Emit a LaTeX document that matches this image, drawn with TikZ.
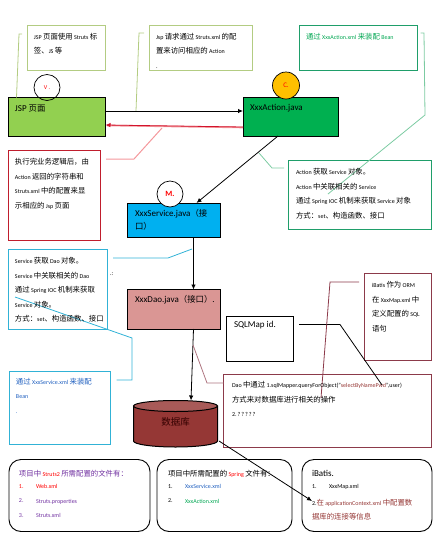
\documentclass[tikz,border=0pt]{standalone}
\usepackage{fontspec}
\setmainfont{Carlito}
\newfontfamily\cjk{Noto Sans CJK SC}
\usetikzlibrary{arrows.meta,shapes.geometric}
\newcommand{\Z}[1]{{\cjk\fontsize{7.4}{14.5}\selectfont #1}}
\newcommand{\ZB}[1]{{\cjk\fontsize{8.4}{12}\selectfont #1}}
\definecolor{cOlive}{HTML}{B3CC82}
\definecolor{cGreen}{HTML}{1F9E6A}
\definecolor{cGreenL}{HTML}{7CCBA2}
\definecolor{cCyan}{HTML}{31B2D6}
\definecolor{cDark}{HTML}{8C3A4A}
\definecolor{cPink}{HTML}{F4979B}
\definecolor{cPurple}{HTML}{7030A0}
\definecolor{cBlue}{HTML}{1F5FBF}
\definecolor{cTeal}{HTML}{00A651}
\definecolor{cRust}{HTML}{953735}
\definecolor{cRed}{HTML}{D2142D}
\definecolor{cRedBox}{HTML}{C01E2D}
\definecolor{fJsp}{HTML}{92D050}
\definecolor{fAct}{HTML}{00B050}
\definecolor{fSvc}{HTML}{00B0F0}
\definecolor{fDao}{HTML}{DA9694}
\definecolor{fOrange}{HTML}{FFC000}
\definecolor{fDbTop}{HTML}{A85A58}
\tikzset{
 boxst/.style={draw,anchor=north west,inner sep=0pt,outer sep=0pt,line width=.9pt},
 mainbox/.style={boxst,draw=black,line width=1pt},
 roundbox/.style={boxst,draw=black,rounded corners=12pt},
 txt/.style={anchor=north west,inner sep=0pt,outer sep=0pt,align=left,font=\fontsize{6}{14.5}\selectfont},
 big/.style={anchor=north west,inner sep=0pt,outer sep=0pt,align=left,font=\fontsize{9}{12}\selectfont},
 circ/.style={circle,draw=black,line width=.7pt,inner sep=0pt,minimum size=26pt},
 conn/.style={line width=.8pt},
 arr/.style={line width=.8pt,-{Latex[length=5pt,width=4.5pt]}},
}
\begin{document}
\begin{tikzpicture}[x=1pt,y=-1pt]
\useasboundingbox (0,0) rectangle (437,547);
% boxes
\node[boxst,draw=cOlive,minimum width=78pt,minimum height=45pt] (n1) at (27,25) {};
\node[boxst,draw=cOlive,minimum width=103pt,minimum height=45pt] (n2) at (149,25) {};
\node[boxst,draw=cGreen,minimum width=118pt,minimum height=45pt] (n3) at (299.5,25) {};
\node[mainbox,fill=fJsp,minimum width=97pt,minimum height=39pt] (jsp) at (8.5,97.5) {};
\node[mainbox,fill=fAct,minimum width=95.5pt,minimum height=39pt] (act) at (243,97.5) {};
\node[boxst,draw=cRedBox,minimum width=92pt,minimum height=90pt] (n4) at (8.5,150) {};
\node[boxst,draw=cGreen,minimum width=143.5pt,minimum height=69.5pt] (n5) at (288,160) {};
\node[mainbox,fill=fSvc,minimum width=92.5pt,minimum height=34.5pt] (svc) at (127.5,203) {};
\node[mainbox,fill=fDao,minimum width=92.5pt,minimum height=39.5pt] (dao) at (127.5,289.5) {};
\node[boxst,draw=cCyan,minimum width=99pt,minimum height=80pt] (n6) at (8.5,249.5) {};
\node[boxst,draw=cCyan,minimum width=101pt,minimum height=73pt] (n7) at (9.5,371) {};
\node[mainbox,minimum width=67.5pt,minimum height=45pt] (sql) at (226,316) {};
\node[boxst,draw=cDark,minimum width=67.5pt,minimum height=86.5pt] (n8) at (364,273.5) {};
\node[boxst,draw=cDark,minimum width=208pt,minimum height=73.5pt] (n9) at (223.5,374) {};
\node[roundbox,minimum width=141pt,minimum height=72pt] (r1) at (9,459.5) {};
\node[roundbox,minimum width=135pt,minimum height=72pt] (r2) at (157,459.5) {};
\node[roundbox,minimum width=130pt,minimum height=72pt] (r3) at (302,459.5) {};
% database cylinder
\draw[line width=1pt,fill=cRust] (133.5,406) -- (133.5,441) arc[start angle=180,end angle=0,x radius=42,y radius=6] -- (217.5,406) -- cycle;
\draw[line width=1pt,fill=fDbTop] (175.5,406) ellipse[x radius=42,y radius=5.5];
\node[circ] (cv) at (47,87.5) {};
\node[circ,fill=fOrange,minimum size=27pt] (cc) at (286,85.5) {};
\node[circ,fill=white] (cm) at (170,194) {};
% named free ends
\coordinate (a1) at (19,34); \coordinate (a2) at (22,34); \coordinate (a0) at (16.5,97.5);
\coordinate (b0) at (136,111); \coordinate (b1) at (139,33); \coordinate (b2) at (144,33);
\coordinate (c1) at (424,33); \coordinate (c0) at (420.5,33); \coordinate (c2) at (425,115); \coordinate (c3) at (328,194);
\coordinate (d0) at (106,159); \coordinate (d1) at (134,159); \coordinate (d2) at (162,128);
\coordinate (e0) at (259,153); \coordinate (e1) at (272,168); \coordinate (e2) at (284,168);
\coordinate (f0) at (113,258); \coordinate (f1) at (168,258); \coordinate (f2) at (192,249);
\coordinate (g0) at (116.5,380); \coordinate (g1) at (132,380); \coordinate (g2) at (132,338); \coordinate (g3) at (15,297);
\coordinate (h0) at (299,324.5); \coordinate (h1) at (340,324.5); \coordinate (h2) at (382,385);
\coordinate (i0) at (359,282); \coordinate (i1) at (330,282); \coordinate (i2) at (321,398);
\coordinate (j0) at (193,345); \coordinate (j1) at (207,383); \coordinate (j2) at (223.5,383);
\coordinate (k0) at (243,127.5); \coordinate (k1) at (107,125.5); \coordinate (k2) at (243,127); \coordinate (k3) at (105.5,125);
\coordinate (m0) at (278,136); \coordinate (m1) at (196.5,203);
\coordinate (p0) at (193.5,237.5); \coordinate (p1) at (193.5,289.5);
\coordinate (q0) at (193.5,329); \coordinate (q1) at (191,400.5);
\coordinate (s0) at (219,441); \coordinate (s1) at (312,501);
% connectors
\draw[conn,cOlive] (a0) -- (a1) -- (a2);
\draw[conn,cOlive] (b0) -- (b1) -- (b2);
\draw[arr] (jsp.east |- b0) -- (act.west |- b0);
\draw[line width=1.6pt,cPink] (k0) -- (k1);
\draw[arr,cRed] (k2) -- (k3);
\draw[line width=1pt,cPink] (d0) -- (d1) -- (d2);
\draw[conn,cGreenL] (c0) -- (c1) -- (c2) -- (c3);
\draw[arr] (m0) -- (m1);
\draw[conn,cGreenL] (e0) -- (e1) -- (e2);
\draw[conn,cCyan] (f0) -- (f1) -- (f2);
\draw[conn,cCyan] (g0) -- (g1) -- (g2) -- (g3);
\draw[arr] (p0) -- (p1);
\draw[arr] (q0) -- (q1);
\draw[conn,cDark!70] (j0) -- (j1) -- (j2);
\draw[conn] (h0) -- (h1) -- (h2);
\draw[conn,cDark] (i0) -- (i1) -- (i2);
\draw[arr] (s0) -- (s1);
% main labels
\node[big] (tjsp) at (15,104.5) {JSP \ZB{页面}};
\node[big] (tact) at (250,104.5) {XxxAction.java};
\node[big,text width=84pt] (tsvc) at (135,209) {XxxService.java\ZB{（接}\\[1pt]\ZB{口）}};
\node[big] (tdao) at (135,295) {XxxDao.java\ZB{（接口）}.};
\node[big] (tsql) at (234,321) {SQLMap id.};
\node[anchor=center,inner sep=0pt,text=black!80!red] (tdb) at (175.5,421.5) {{\cjk\fontsize{9.5}{12}\selectfont 数据库}};
\node[inner sep=0pt,text=red,font=\fontsize{6}{7}\selectfont] (tv) at (cv) {V .};
\node[inner sep=0pt,text=red,font=\fontsize{7}{8}\selectfont] (tc) at (cc) {C.};
\node[inner sep=0pt,text=red,font=\bfseries\fontsize{8}{9}\selectfont] (tm) at (cm) {M.};
% notes
\node[txt] (x1) at (34,33) {JSP \Z{页面使用} Struts \Z{标}\\\Z{签、}JS \Z{等}};
\node[txt] (x2) at (156,33) {Jsp \Z{请求通过} Struts.xml \Z{的配}\\\Z{置来访问相应的} Action\\.};
\node[txt,text=cTeal] (x3) at (306,33.5) {\Z{通过} XxxAction.xml \Z{来装配} Bean};
\node[txt] (x4) at (15,158.5) {\Z{执行完业务逻辑后，由}\\Action \Z{返回的字符串和}\\Struts.xml \Z{中的配置来显}\\\Z{示相应的} Jsp \Z{页面}};
\node[txt] (x5) at (296,168.5) {Action \Z{获取} Service \Z{对象。}\\Action \Z{中关联相关的} Service\\\Z{通过} Spring IOC \Z{机制来获取} Service \Z{对象}\\\Z{方式：}set\Z{、构造函数、接口}};
\node[txt] (x6) at (15,257.5) {Service \Z{获取} Dao \Z{对象。}\\Service \Z{中关联相关的} Dao\\\Z{通过} Spring IOC \Z{机制来获取}\\Service \Z{对象。}\\\Z{方式：}set\Z{、构造函数、接口}};
\node[txt] (x6b) at (110,273) {.:};
\node[txt,text=cBlue] (x7) at (16,378) {\Z{通过} XxxService.xml \Z{来装配}\\Bean\\.};
\node[txt] (x8) at (372,281.5) {iBatis \Z{作为} ORM\\\Z{在} XxxMap.xml \Z{中}\\\Z{定义配置的} SQL\\\Z{语句}};
\node[txt] (x9) at (232,381.5) {Dao \Z{中通过} 1.sqlMapper.queryForObject("\textcolor{cRust}{selectByNamePwd}",user)\\\Z{方式来对数据库进行相关的操作}\\2.\,?\,?\,?\,?\,?};
\node[txt] (y1) at (19,470.5) {\textcolor{cPurple}{\Z{项目中}} \textcolor{red}{Struts2} \textcolor{cPurple}{\Z{所需配置的文件有：}}};
\node[txt,text=cPurple] (y2) at (19,484.5) {\textcolor{red}{1.}\\2.\\3.};
\node[txt,text=cPurple] (y3) at (36,484.5) {\textcolor{red}{Web.xml}\\Struts.properties\\Struts.xml};
\node[txt] (z1) at (168,470.5) {\Z{项目中所需配置的} \textcolor{red}{Spring} \Z{文件有：}};
\node[txt] (z2) at (168,484.5) {1.\\2.};
\node[txt] (z3) at (185,484.5) {\textcolor{cBlue}{XxxService.xml}\\\textcolor{cTeal}{XxxAction.xml}};
\node[big] (w1) at (312,470) {iBatis.};
\node[txt] (w2) at (312,484.5) {1.};
\node[txt] (w3) at (329,484.5) {XxxMap.xml};
\node[txt] (w4) at (312,499) {2.\textcolor{cRust}{\Z{在} applicationContext.xml \Z{中配置数}}\\\textcolor{cRust}{\Z{据库的连接等信息}}};
\end{tikzpicture}
\end{document}
